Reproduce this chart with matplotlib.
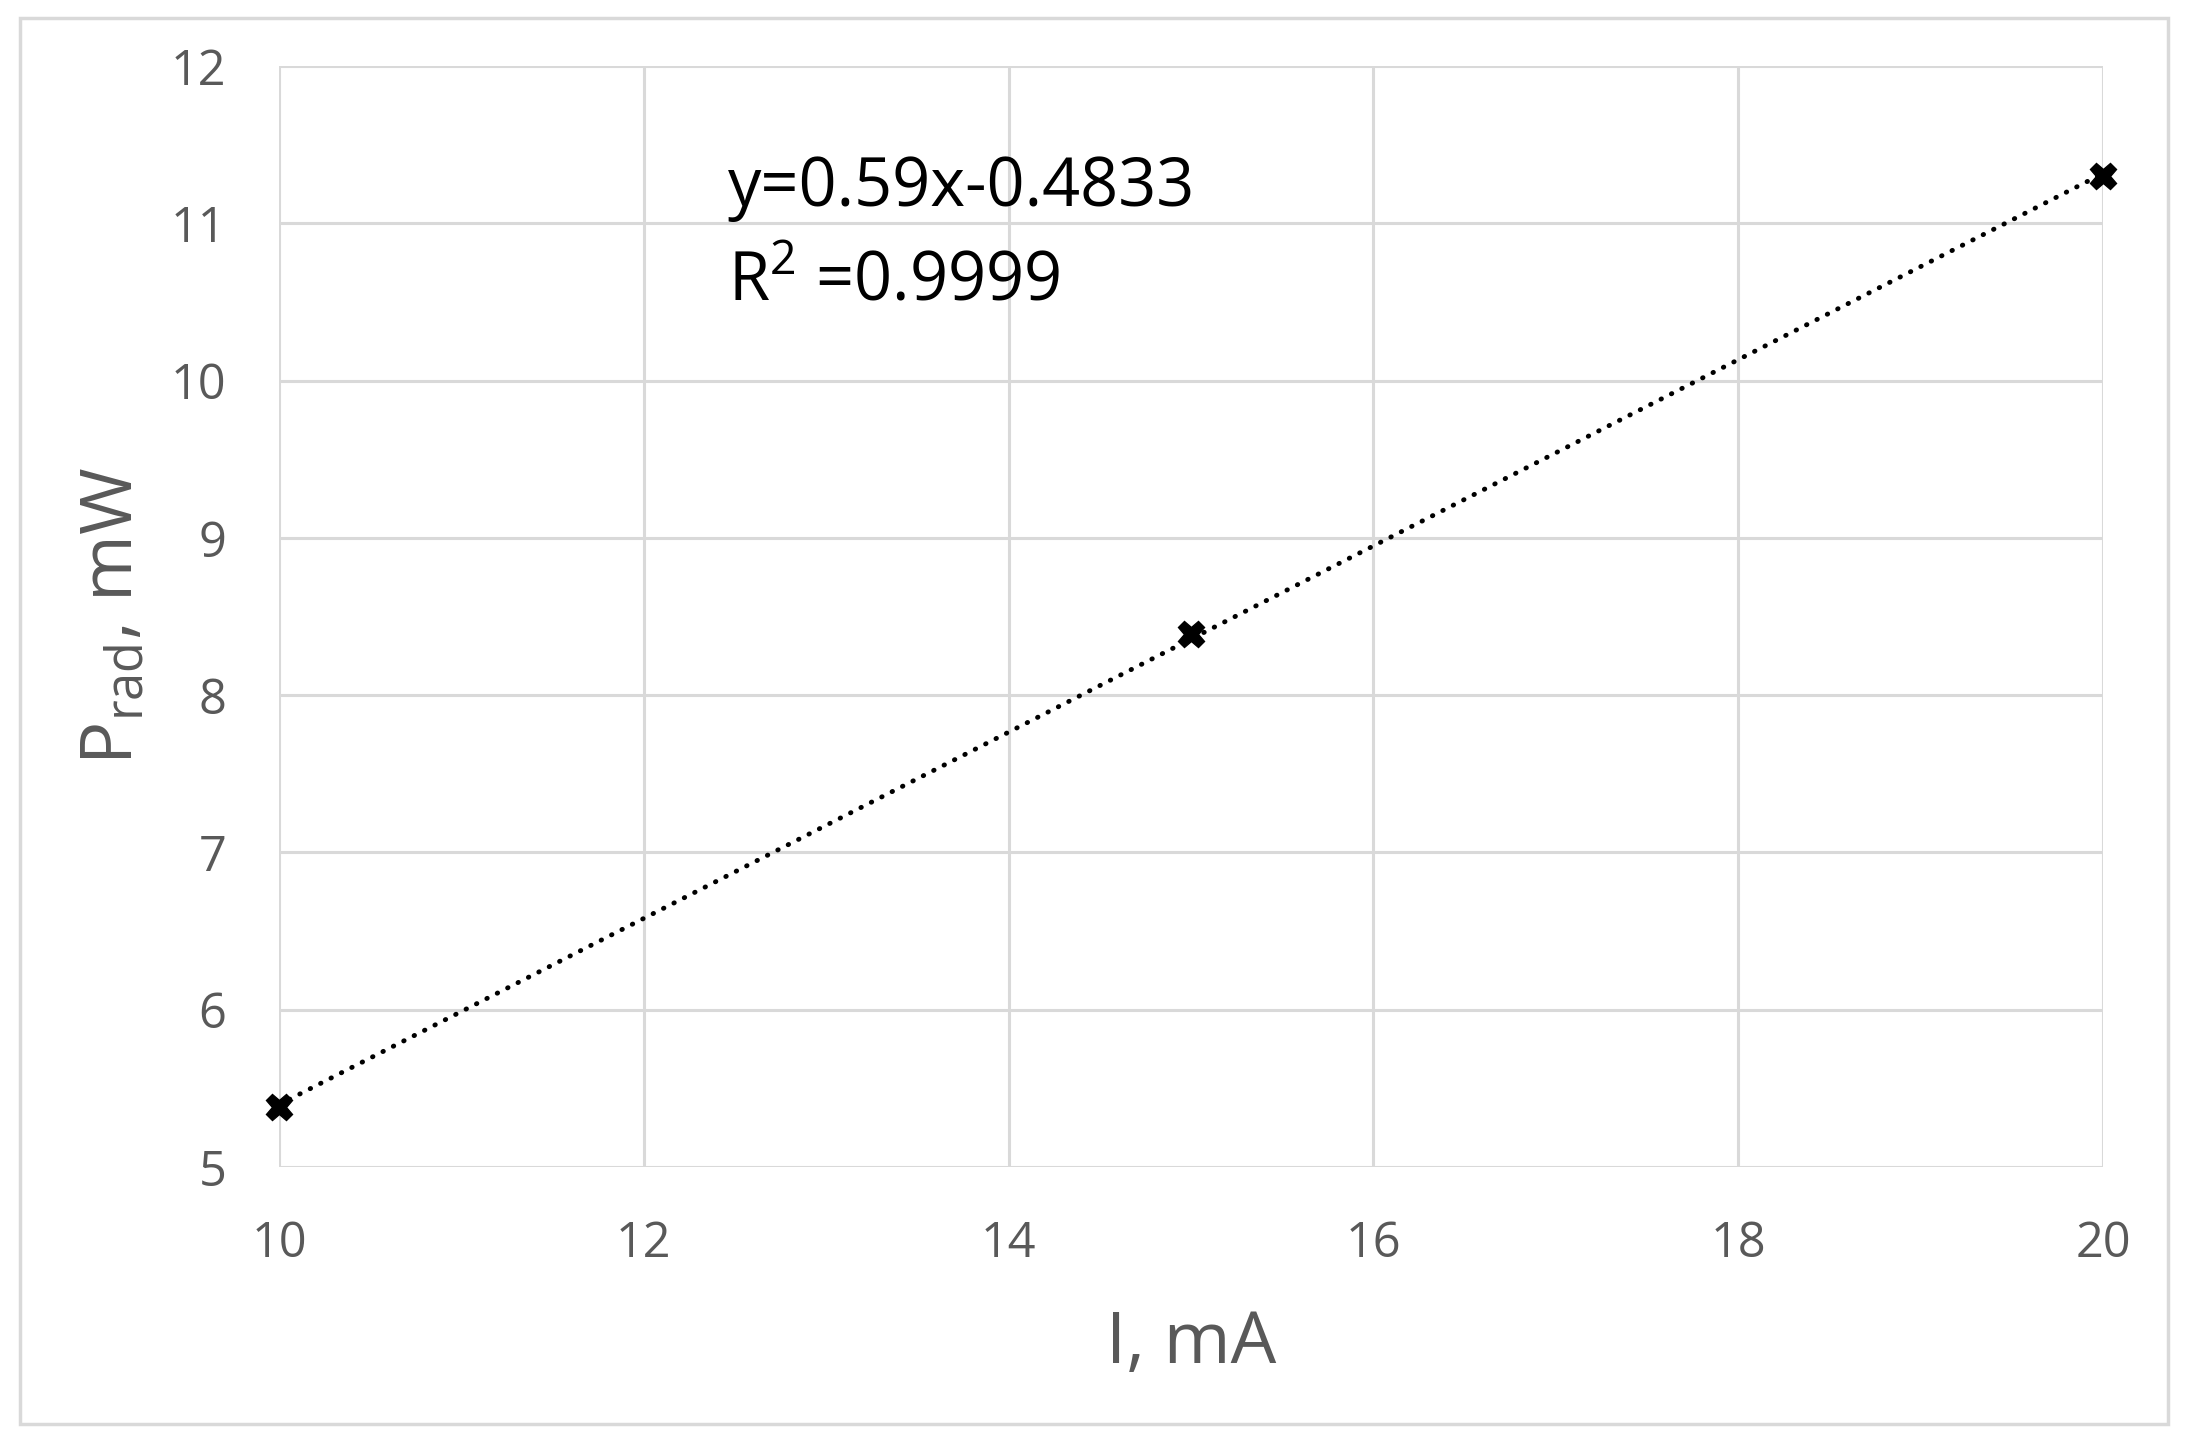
import numpy as np
import matplotlib
matplotlib.use('Agg')
import matplotlib.pyplot as plt
from matplotlib.patches import Rectangle

# data
current_mA = [10, 15, 20]
power_mW = [5.38, 8.39, 11.30]
xticks = [10, 12, 14, 16, 18, 20]
yticks = [5, 6, 7, 8, 9, 10, 11, 12]
eq_text = 'y=0.59x-0.4833'
r2_text = r'R$^2$ =0.9999'

plt.rcParams['font.family'] = ['Open Sans', 'DejaVu Sans']
plt.rcParams['mathtext.fontset'] = 'custom'
plt.rcParams['mathtext.rm'] = 'Open Sans'

W, H = 2207, 1449
fig = plt.figure(figsize=(W / 100, H / 100), dpi=100)
ax = fig.add_axes([279 / W, 1 - 1167 / H, (2103 - 279) / W, (1167 - 66) / H])

grey = '#595959'
gridc = '#d9d9d9'

# trend line from least squares fit
k, b = np.polyfit(current_mA, power_mW, 1)
xs = np.array([min(current_mA), max(current_mA)])
ax.plot(xs, k * xs + b, color='black', lw=3.5, linestyle=(0, (0.1, 2.3)),
        dash_capstyle='round', zorder=3)
ax.plot(current_mA, power_mW, linestyle='none', marker='X', ms=19,
        color='black', zorder=4, clip_on=False)

ax.set_xlim(10, 20)
ax.set_ylim(5, 12)
ax.set_xticks(xticks)
ax.set_yticks(yticks)
ax.grid(True, color=gridc, lw=2.2)
ax.set_axisbelow(True)
for s in ax.spines.values():
    s.set_visible(False)
ax.tick_params(length=0, labelsize=35, labelcolor=grey, pad=38)

ax.set_xlabel('I, mA', fontsize=52, color=grey, labelpad=28)
ax.set_ylabel(r'P$_{\mathrm{rad}}$, mW', fontsize=52, color=grey, labelpad=16)

fig.text(728 / W, 1 - 188 / H, eq_text, fontsize=48, color='black', va='center')
fig.text(728 / W, 1 - 283 / H, r2_text, fontsize=48, color='black', va='center')

# outer chart border
fig.patches.append(Rectangle((20 / W, 1 - 1424 / H), (2168 - 20) / W, (1424 - 18) / H,
                             transform=fig.transFigure, fill=False,
                             edgecolor=gridc, lw=2.5))

fig.savefig('out.png', dpi=100, facecolor='white')
